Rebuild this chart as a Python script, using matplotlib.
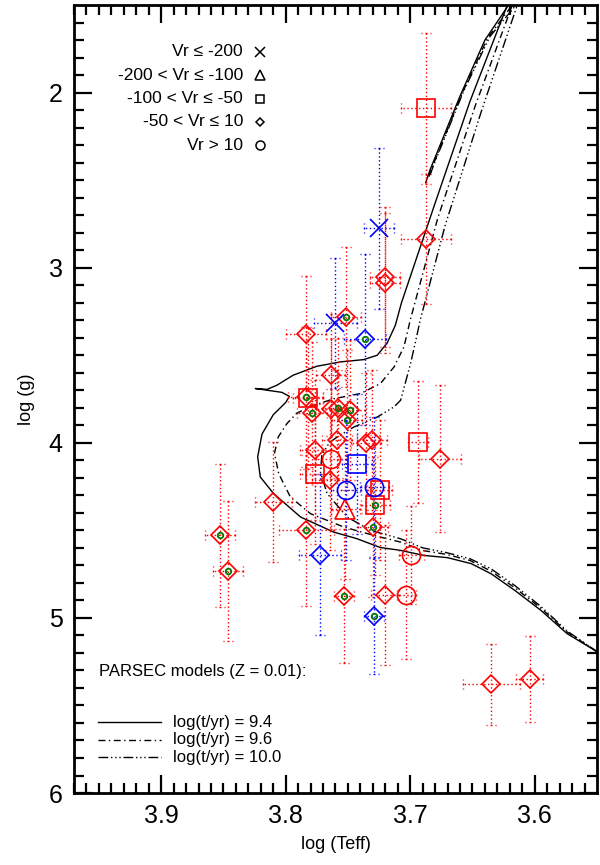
import numpy as np
import matplotlib
matplotlib.use("Agg")
import matplotlib.pyplot as plt
from matplotlib.path import Path

plt.rcParams['font.family'] = ['Liberation Sans', 'DejaVu Sans']

# ---------------- data ----------------
# stars: log Teff, log g, errors, velocity class, sample colour, green flag
teff = [3.6876, 3.6876, 3.7252, 3.7205, 3.7200, 3.7514, 3.7600, 3.7840, 3.7365, 3.7640,
        3.7820, 3.7840, 3.7790, 3.7635, 3.7580, 3.7485, 3.7506, 3.7587, 3.7353, 3.7305,
        3.7767, 3.7635, 3.7430, 3.7767, 3.7646, 3.7514, 3.7287, 3.7244, 3.7520, 3.7279,
        3.8100, 3.7834, 3.7298, 3.8530, 3.7727, 3.8460, 3.7533, 3.7203, 3.7292, 3.6935,
        3.6761, 3.6990, 3.7030, 3.6348, 3.6040]
logg = [2.09, 2.837, 2.776, 3.054, 3.089, 3.281, 3.315, 3.376, 3.409, 3.614,
        3.747, 3.738, 3.827, 3.805, 3.801, 3.814, 3.871, 3.986, 4.001, 3.982,
        4.040, 4.090, 4.123, 4.180, 4.214, 4.267, 4.252, 4.271, 4.376, 4.357,
        4.338, 4.500, 4.481, 4.529, 4.639, 4.733, 4.875, 4.868, 4.990, 3.995,
        4.090, 4.643, 4.867, 5.380, 5.351]
e_teff = [0.020, 0.020, 0.012, 0.012, 0.012, 0.012, 0.017, 0.016, 0.017, 0.012,
          0.012, 0.014, 0.012, 0.012, 0.012, 0.012, 0.012, 0.012, 0.012, 0.012,
          0.012, 0.012, 0.012, 0.012, 0.014, 0.012, 0.012, 0.010, 0.012, 0.012,
          0.015, 0.022, 0.012, 0.012, 0.017, 0.012, 0.008, 0.011, 0.008, 0.008,
          0.017, 0.010, 0.008, 0.023, 0.011]
e_logg = [0.43, 0.37, 0.46, 0.40, 0.40, 0.40, 0.37, 0.33, 0.49, 0.35,
          0.40, 0.40, 0.40, 0.40, 0.40, 0.40, 0.40, 0.40, 0.40, 0.40,
          0.40, 0.40, 0.40, 0.40, 0.40, 0.40, 0.40, 0.40, 0.40, 0.40,
          0.34, 0.43, 0.40, 0.41, 0.46, 0.40, 0.38, 0.40, 0.33, 0.35,
          0.42, 0.28, 0.37, 0.23, 0.245]
# 0: Vr<=-200, 1: -200<Vr<=-100, 2: -100<Vr<=-50, 3: -50<Vr<=10, 4: Vr>10
vr_class = [2, 3, 0, 3, 3, 3, 0, 3, 3, 3,
            2, 3, 3, 3, 3, 3, 3, 3, 3, 3,
            3, 4, 2, 2, 3, 4, 4, 2, 1, 2,
            3, 3, 3, 3, 3, 3, 3, 3, 3, 2,
            3, 4, 4, 3, 3]
sample = ['r', 'r', 'b', 'r', 'r', 'r', 'b', 'r', 'b', 'r',
          'r', 'r', 'r', 'r', 'r', 'r', 'r', 'r', 'r', 'r',
          'r', 'r', 'b', 'r', 'r', 'b', 'b', 'r', 'r', 'r',
          'r', 'r', 'r', 'r', 'b', 'r', 'r', 'r', 'b', 'r',
          'r', 'r', 'r', 'r', 'r']
green = [0, 0, 0, 0, 0, 1, 0, 0, 1, 0,
         0, 1, 1, 0, 1, 1, 1, 0, 0, 0,
         0, 0, 0, 0, 0, 0, 0, 0, 0, 1,
         0, 1, 1, 1, 0, 1, 1, 0, 1, 0,
         0, 0, 0, 0, 0]

vr_labels = ['Vr \u2264 -200', '-200 < Vr \u2264 -100', '-100 < Vr \u2264 -50',
             '-50 < Vr \u2264 10', 'Vr > 10']

# PARSEC isochrones (Z = 0.01)
iso94_T = [3.5495, 3.574, 3.595, 3.616, 3.635, 3.651, 3.670, 3.689, 3.708, 3.724,
           3.743, 3.7614, 3.788, 3.8097, 3.8204, 3.8225, 3.819, 3.810, 3.800, 3.797,
           3.803, 3.8244, 3.815, 3.807, 3.794, 3.775, 3.756, 3.7375, 3.7265, 3.7185,
           3.712, 3.707, 3.681, 3.652, 3.622]
iso94_g = [5.195, 5.09, 4.957, 4.843, 4.748, 4.690, 4.656, 4.643, 4.614, 4.598,
           4.547, 4.510, 4.424, 4.290, 4.195, 4.080, 3.950, 3.840, 3.770, 3.735,
           3.712, 3.690, 3.695, 3.671, 3.614, 3.563, 3.538, 3.525, 3.500, 3.430,
           3.330, 3.200, 2.652, 2.050, 1.500]
agb94_T = [3.6876, 3.684, 3.660, 3.640, 3.621]
agb94_g = [2.515, 2.440, 2.020, 1.700, 1.500]

iso96_T = [3.5495, 3.574, 3.595, 3.616, 3.635, 3.652, 3.671, 3.690, 3.7077, 3.7292,
           3.7533, 3.780, 3.7962, 3.8056, 3.809, 3.806, 3.799, 3.791, 3.7775, 3.761,
           3.740, 3.724, 3.713, 3.705, 3.700, 3.678, 3.648, 3.618]
iso96_g = [5.195, 5.08, 4.945, 4.828, 4.733, 4.672, 4.637, 4.615, 4.567, 4.529,
           4.481, 4.405, 4.310, 4.176, 4.060, 3.967, 3.890, 3.830, 3.786, 3.748,
           3.719, 3.662, 3.567, 3.452, 3.300, 2.720, 2.080, 1.500]
agb96_T = [3.6850, 3.682, 3.658, 3.638, 3.618]
agb96_g = [2.480, 2.420, 2.000, 1.690, 1.500]

iso100_T = [3.5495, 3.574, 3.595, 3.616, 3.635, 3.652, 3.671, 3.690, 3.7077, 3.7319,
            3.7506, 3.7667, 3.772, 3.771, 3.765, 3.7587, 3.7453, 3.7265, 3.713, 3.7077,
            3.6997, 3.6943, 3.692, 3.672, 3.643, 3.614]
iso100_g = [5.195, 5.075, 4.935, 4.815, 4.720, 4.662, 4.627, 4.600, 4.548, 4.500,
            4.424, 4.290, 4.170, 4.070, 4.000, 3.967, 3.910, 3.853, 3.795, 3.757,
            3.547, 3.376, 3.300, 2.760, 2.110, 1.500]
agb100_T = [3.6840, 3.681, 3.657, 3.636, 3.615]
agb100_g = [2.470, 2.410, 1.990, 1.680, 1.500]

iso_labels = ['log(t/yr) = 9.4', 'log(t/yr) = 9.6', 'log(t/yr) = 10.0']

# ---------------- styles ----------------
col_map = {'r': '#ff0000', 'b': '#0000ff'}
mk_map = {0: 'x', 1: '^', 2: 's', 3: 'D', 4: 'o'}
ms_map = {0: 13, 1: 14, 2: 12.5, 3: 9.4, 4: 13}
leg_ms = {0: 6.5, 1: 6.5, 2: 6, 3: 4.5, 4: 6.5}
dotted = (0, (1.0, 1.8))
ls_96 = (0, (5, 2.5, 1, 2.5))
ls_100 = (0, (7, 2, 1, 2, 1, 2, 1, 2))

# dotted cap markers
hcap = Path([(-0.5, 0), (-0.38, 0), (-0.07, 0), (0.07, 0), (0.38, 0), (0.5, 0)],
            [Path.MOVETO, Path.LINETO, Path.MOVETO, Path.LINETO, Path.MOVETO, Path.LINETO])
vcap = Path([(0, -0.5), (0, -0.38), (0, -0.07), (0, 0.07), (0, 0.38), (0, 0.5)],
            [Path.MOVETO, Path.LINETO, Path.MOVETO, Path.LINETO, Path.MOVETO, Path.LINETO])

fig = plt.figure(figsize=(6.0, 8.65), dpi=100)
ax = fig.add_axes([0.1233, 0.0832, 0.8717, 0.911])

T = np.array(teff); G = np.array(logg)
eT = np.array(e_teff); eG = np.array(e_logg)

# isochrones
ax.plot(iso94_T, iso94_g, color='black', lw=1.0, ls='-')
ax.plot(agb94_T, agb94_g, color='black', lw=1.0, ls='-')
ax.plot(iso96_T, iso96_g, color='black', lw=1.0, ls=ls_96)
ax.plot(agb96_T, agb96_g, color='black', lw=1.0, ls=ls_96)
ax.plot(iso100_T, iso100_g, color='black', lw=1.0, ls=ls_100)
ax.plot(agb100_T, agb100_g, color='black', lw=1.0, ls=ls_100)

# error bars
for s in ['r', 'b']:
    idx = np.array([i for i in range(len(T)) if sample[i] == s])
    c = col_map[s]
    ax.vlines(T[idx], G[idx] - eG[idx], G[idx] + eG[idx], colors=c, linestyles=[dotted], lw=1.0)
    ax.hlines(G[idx], T[idx] - eT[idx], T[idx] + eT[idx], colors=c, linestyles=[dotted], lw=1.0)
    ax.plot(np.r_[T[idx], T[idx]], np.r_[G[idx] - eG[idx], G[idx] + eG[idx]], ls='none',
            marker=hcap, ms=7.5, mew=1.0, color=c)
    ax.plot(np.r_[T[idx] - eT[idx], T[idx] + eT[idx]], np.r_[G[idx], G[idx]], ls='none',
            marker=vcap, ms=7.5, mew=1.0, color=c)

# symbols
for s in ['r', 'b']:
    for k in range(5):
        idx = [i for i in range(len(T)) if sample[i] == s and vr_class[i] == k]
        if not idx:
            continue
        ax.plot(T[idx], G[idx], ls='none', marker=mk_map[k], ms=ms_map[k],
                mfc='none', mec=col_map[s], mew=1.2)

gidx = [i for i in range(len(T)) if green[i]]
ax.plot(T[gidx], G[gidx], ls='none', marker='o', ms=4.0, mfc='none', mec='#007a00', mew=1.3)

# axes
ax.set_xlim(3.97, 3.55)
ax.set_ylim(6.0, 1.5)
ax.set_xticks([3.9, 3.8, 3.7, 3.6])
ax.set_xticklabels(['3.9', '3.8', '3.7', '3.6'])
ax.set_yticks([2, 3, 4, 5, 6])
ax.set_yticklabels(['2', '3', '4', '5', '6'])
ax.set_xticks(np.arange(3.56, 3.97, 0.01), minor=True)
ax.set_yticks(np.arange(1.6, 6.0, 0.1), minor=True)
ax.tick_params(which='both', direction='in', top=True, right=True, width=1.6, labelsize=18)
ax.tick_params(which='major', length=13, pad=8)
ax.tick_params(which='minor', length=7)
for sp in ax.spines.values():
    sp.set_linewidth(2.0)
ax.set_xlabel('log (Teff)', fontsize=13, labelpad=6)
ax.set_ylabel('log (g)', fontsize=13, labelpad=10)

# velocity legend
ytop = 0.9405
dy = 0.0296
for k in range(5):
    yy = ytop - k * dy
    ax.text(0.323, yy, vr_labels[k], transform=ax.transAxes, ha='right', va='center',
            fontsize=12.5)
    ax.plot([0.3556], [yy], transform=ax.transAxes, marker=mk_map[k], ms=leg_ms[k],
            mfc='none', mec='black', mew=1.1, ls='none', clip_on=False)

# isochrone legend
ax.text(0.0478, 0.1536, 'PARSEC models (Z = 0.01):', transform=ax.transAxes,
        ha='left', va='center', fontsize=12)
for yy, ls, lab in zip([0.0901, 0.0673, 0.0457], ['-', ls_96, ls_100], iso_labels):
    ax.plot([0.0459, 0.1663], [yy, yy], transform=ax.transAxes, color='black', lw=1.0, ls=ls)
    ax.text(0.1893, yy, lab, transform=ax.transAxes, ha='left', va='center', fontsize=12)

fig.savefig('out.png', dpi=100)
